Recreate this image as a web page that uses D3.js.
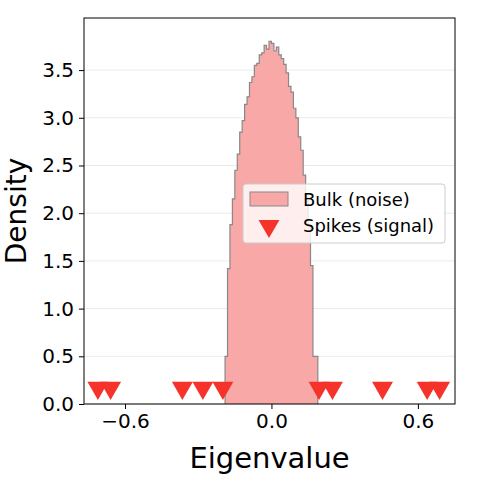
<!DOCTYPE html><html><head><script src="https://cdn.jsdelivr.net/npm/d3@7"></script>
<style>body{margin:0;background:#fff}text{font-family:"DejaVu Sans"}</style></head><body><svg id="c" width="494" height="490"></svg>
<script>
const binStart=-0.19, binWidth=0.01;
const bulkDensity=[0.5,1.42,1.88,2.15,2.45,2.62,2.85,2.97,3.14,3.22,3.37,3.43,3.55,3.57,3.66,3.68,3.76,3.72,3.80,3.78,3.70,3.74,3.66,3.62,3.56,3.47,3.33,3.27,3.10,3.00,2.80,2.66,2.40,2.19,1.85,1.45,0.5,0.5];
const spikes=[-0.711,-0.659,-0.365,-0.281,-0.199,0.195,0.250,0.455,0.638,0.689];
const spikeY=0.17;
const xTicks=[-0.6,0,0.6], yTicks=[0,0.5,1,1.5,2,2.5,3,3.5];
const svg=d3.select("#c");
const L=84,R=455,T=18,B=404;
const x=d3.scaleLinear().domain([-0.768,0.752]).range([L,R]);
const y=d3.scaleLinear().domain([0,4.046]).range([B,T]);
const g=svg.append("g");
g.selectAll("line.grid").data(yTicks).join("line").attr("x1",L).attr("x2",R).attr("y1",d=>y(d)).attr("y2",d=>y(d)).attr("stroke","#ebebeb").attr("stroke-width",1);
let pts=[[x(binStart),y(0)]];
bulkDensity.forEach((v,i)=>{pts.push([x(binStart+i*binWidth),y(v)]);pts.push([x(binStart+(i+1)*binWidth),y(v)]);});
pts.push([x(binStart+bulkDensity.length*binWidth),y(0)]);
g.append("path").attr("d",d3.line()(pts)).attr("fill","#f9a8a8").attr("stroke","#888").attr("stroke-width",1.2);
const tri=d3.symbol().type(d3.symbolTriangle).size(190);
g.selectAll("path.s").data(spikes).join("path").attr("transform",d=>`translate(${x(d)},${y(spikeY)}) rotate(180)`).attr("d",tri).attr("fill","#f5332a");
g.append("rect").attr("x",L).attr("y",T).attr("width",R-L).attr("height",B-T).attr("fill","none").attr("stroke","#000").attr("stroke-width",1);
const fmt=d=>d.toFixed(1).replace("-","\u2212");
svg.append("g").attr("transform",`translate(0,${B})`).call(d3.axisBottom(x).tickValues(xTicks).tickFormat(fmt).tickSize(5).tickPadding(5)).call(a=>{a.select(".domain").remove();a.selectAll("text").attr("font-size",20).attr("font-family","DejaVu Sans").attr("fill","#000");});
svg.append("g").attr("transform",`translate(${L},0)`).call(d3.axisLeft(y).tickValues(yTicks).tickFormat(d=>d.toFixed(1)).tickSize(5).tickPadding(5)).call(a=>{a.select(".domain").remove();a.selectAll("text").attr("font-size",20).attr("font-family","DejaVu Sans").attr("fill","#000");});
svg.append("text").attr("x",(L+R)/2).attr("y",468).attr("text-anchor","middle").attr("font-size",29).text("Eigenvalue");
svg.append("text").attr("transform",`translate(26,${(T+B)/2}) rotate(-90)`).attr("text-anchor","middle").attr("font-size",28).text("Density");
const lg=svg.append("g");
lg.append("rect").attr("x",243).attr("y",184).attr("width",202).attr("height",59).attr("rx",3).attr("fill","rgba(255,255,255,0.8)").attr("stroke","#ccc");
lg.append("rect").attr("x",250).attr("y",192).attr("width",38).attr("height",14).attr("fill","#f9a8a8").attr("stroke","#888");
lg.append("path").attr("transform","translate(269,226) rotate(180)").attr("d",tri).attr("fill","#f5332a");
lg.append("text").attr("x",303).attr("y",206).attr("font-size",18).text("Bulk (noise)");
lg.append("text").attr("x",303).attr("y",232).attr("font-size",18).text("Spikes (signal)");
</script></body></html>
